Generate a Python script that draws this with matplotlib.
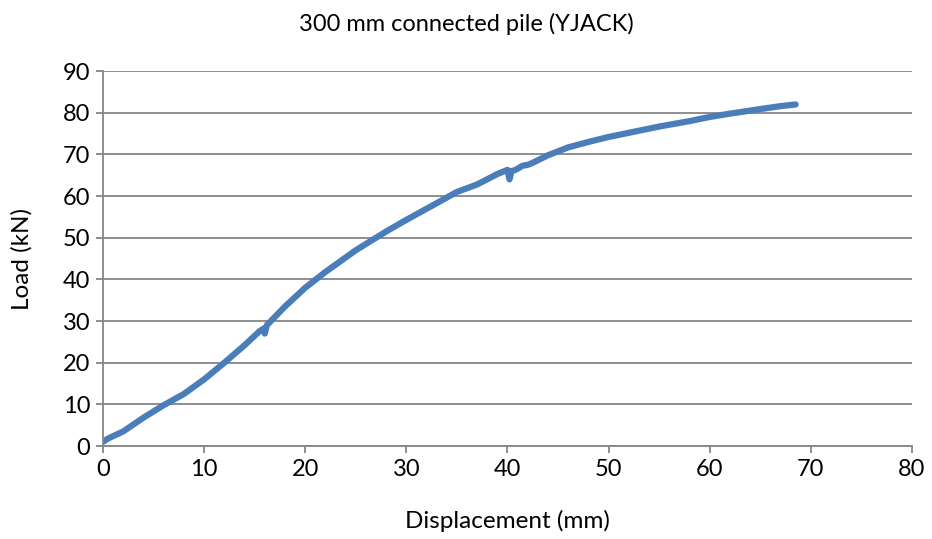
import matplotlib.pyplot as plt

# Valores
desplazamiento = [0, 0.5, 2, 4, 6, 8, 10, 12, 14, 15.5, 15.9, 16.0, 16.2, 17, 18, 20, 22, 25, 28, 30,
                  33, 35, 37, 39, 40.0, 40.2, 40.4, 40.8, 41.5, 42, 42.5, 44, 46, 48, 50, 52, 55,
                  58, 60, 62, 65, 67, 68.5]
carga = [1.0, 1.8, 3.5, 6.8, 9.8, 12.5, 16.0, 20.0, 24.2, 27.6, 28.2, 27.0, 29.0, 31.0, 33.5, 38.0,
         41.8, 47.0, 51.5, 54.3, 58.3, 61.0, 62.8, 65.3, 66.3, 64.0, 66.0, 66.3, 67.3, 67.5, 68.0,
         69.8, 71.7, 73.0, 74.2, 75.2, 76.7, 78.0, 79.0, 79.8, 80.9, 81.6, 82.0]

plt.rcParams['font.family'] = ['Lato', 'DejaVu Sans']

fig = plt.figure(figsize=(9.32, 5.39), dpi=100)
ax = fig.add_axes([0.1105, 0.1725, 0.868, 0.6955])

ax.plot(desplazamiento, carga, color='#4a7ebb', linewidth=4.5, solid_capstyle='round')

ax.set_xlim(0, 80)
ax.set_ylim(0, 90)
ax.set_xticks(range(0, 81, 10))
ax.set_yticks(range(0, 91, 10))
ax.grid(axis='y', color='#868686', linewidth=1.3)
ax.set_axisbelow(True)
for lado in ['top', 'right']:
    ax.spines[lado].set_visible(False)
for lado in ['left', 'bottom']:
    ax.spines[lado].set_color('#868686')
    ax.spines[lado].set_linewidth(1.3)
ax.tick_params(colors='#868686', labelcolor='black', labelsize=17, length=5, width=1.3, pad=4)

ax.set_xlabel('Displacement (mm)', fontsize=17.5, labelpad=22)
ax.set_ylabel('Load (kN)', fontsize=17.5, labelpad=22)
fig.text(0.5, 0.955, '300 mm connected pile (YJACK)', ha='center', va='center', fontsize=17)

fig.savefig('out.png', dpi=100)
